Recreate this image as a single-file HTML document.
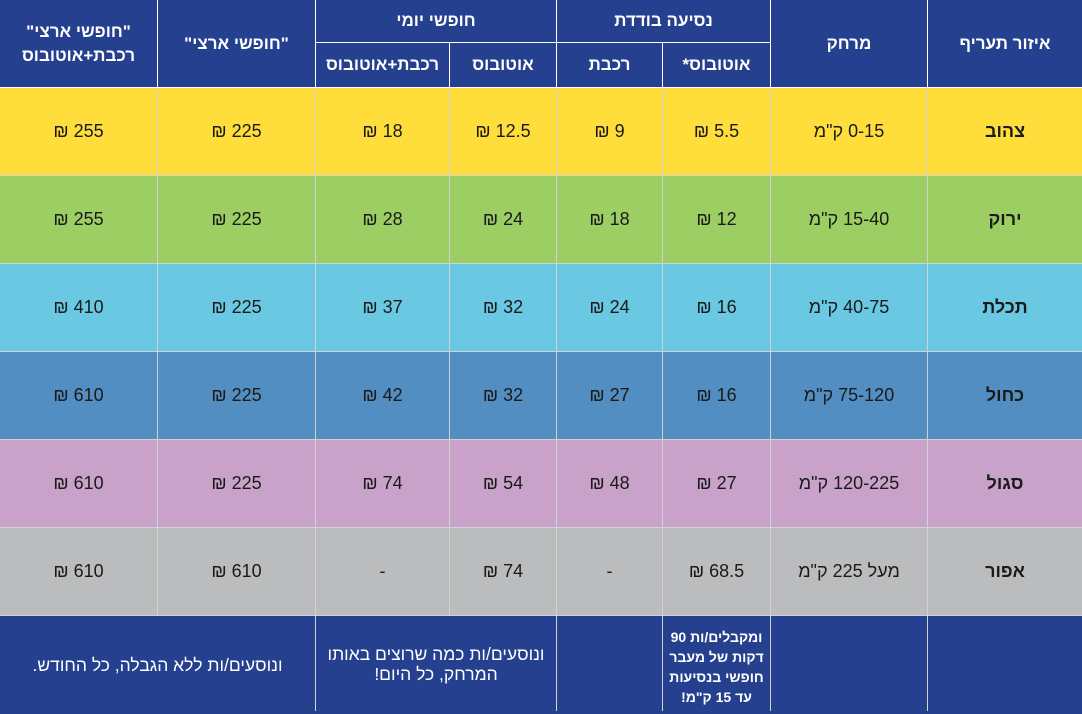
<!DOCTYPE html>
<html lang="he">
<head>
<meta charset="utf-8">
<style>
html,body{margin:0;padding:0;}
body{width:1082px;height:711px;position:relative;overflow:hidden;background:#25408f;font-family:"Liberation Sans","DejaVu Sans",sans-serif;}
.bg{position:absolute;left:0;width:1082px;}
.h{position:absolute;height:1px;}
.v{position:absolute;width:1px;}
.c{position:absolute;display:flex;align-items:center;justify-content:center;text-align:center;direction:rtl;color:#1a1a1a;font-size:18px;}
.hd{color:#fff;font-weight:bold;font-size:17px;line-height:24px;}
.lb{font-weight:bold;}
.ft{color:#fff;font-size:17.5px;line-height:20px;}
.fs{color:#fff;font-size:14px;font-weight:bold;line-height:20px;}
</style>
</head>
<body>
<!-- row backgrounds -->
<div class="bg" style="top:0;height:88px;background:#25408f"></div>
<div class="bg" style="top:88px;height:88px;background:#ffdd3b"></div>
<div class="bg" style="top:176px;height:88px;background:#9cce63"></div>
<div class="bg" style="top:264px;height:88px;background:#6bc8e2"></div>
<div class="bg" style="top:352px;height:88px;background:#528ec1"></div>
<div class="bg" style="top:440px;height:88px;background:#c8a2c8"></div>
<div class="bg" style="top:528px;height:88px;background:#bbbcbd"></div>
<div class="bg" style="top:616px;height:95px;background:#25408f"></div>

<!-- header lines (white) -->
<div class="h" style="top:42px;left:316px;width:455px;background:#fff"></div>
<div class="h" style="top:87px;left:0;width:1082px;background:#fff"></div>
<div class="v" style="left:157px;top:0;height:87px;background:#fff"></div>
<div class="v" style="left:315px;top:0;height:87px;background:#fff"></div>
<div class="v" style="left:449px;top:43px;height:44px;background:#fff"></div>
<div class="v" style="left:556px;top:0;height:87px;background:#fff"></div>
<div class="v" style="left:662px;top:43px;height:44px;background:#fff"></div>
<div class="v" style="left:770px;top:0;height:87px;background:#fff"></div>
<div class="v" style="left:927px;top:0;height:87px;background:#fff"></div>

<!-- body lines (light gray) -->
<div class="h" style="top:175px;left:0;width:1082px;background:#d2d2d2"></div>
<div class="h" style="top:263px;left:0;width:1082px;background:#d2d2d2"></div>
<div class="h" style="top:351px;left:0;width:1082px;background:#d2d2d2"></div>
<div class="h" style="top:439px;left:0;width:1082px;background:#d2d2d2"></div>
<div class="h" style="top:527px;left:0;width:1082px;background:#d2d2d2"></div>
<div class="h" style="top:615px;left:0;width:1082px;background:#d2d2d2"></div>
<div class="v" style="left:157px;top:88px;height:528px;background:#d2d2d2"></div>
<div class="v" style="left:315px;top:88px;height:623px;background:#d2d2d2"></div>
<div class="v" style="left:449px;top:88px;height:528px;background:#d2d2d2"></div>
<div class="v" style="left:556px;top:88px;height:623px;background:#d2d2d2"></div>
<div class="v" style="left:662px;top:88px;height:623px;background:#d2d2d2"></div>
<div class="v" style="left:770px;top:88px;height:623px;background:#d2d2d2"></div>
<div class="v" style="left:927px;top:88px;height:623px;background:#d2d2d2"></div>

<!-- header text -->
<div class="c hd" style="left:928px;width:154px;top:0;height:87px">איזור תעריף</div>
<div class="c hd" style="left:771px;width:156px;top:0;height:87px">מרחק</div>
<div class="c hd" style="left:557px;width:213px;top:0;height:42px">נסיעה בודדת</div>
<div class="c hd" style="left:663px;width:107px;top:43px;height:44px">אוטובוס*</div>
<div class="c hd" style="left:557px;width:105px;top:43px;height:44px">רכבת</div>
<div class="c hd" style="left:316px;width:240px;top:0;height:42px">חופשי יומי</div>
<div class="c hd" style="left:450px;width:106px;top:43px;height:44px">אוטובוס</div>
<div class="c hd" style="left:316px;width:133px;top:43px;height:44px">רכבת+אוטובוס</div>
<div class="c hd" style="left:158px;width:157px;top:0;height:87px">"חופשי ארצי"</div>
<div class="c hd" style="left:0;width:157px;top:0;height:87px">"חופשי ארצי"<br>רכבת+אוטובוס</div>

<!-- row 1 yellow -->
<div class="c lb" style="left:928px;width:154px;top:88px;height:87px">צהוב</div>
<div class="c" style="left:771px;width:156px;top:88px;height:87px">0-15 ק"מ</div>
<div class="c" style="left:663px;width:107px;top:88px;height:87px">5.5 ₪</div>
<div class="c" style="left:557px;width:105px;top:88px;height:87px">9 ₪</div>
<div class="c" style="left:450px;width:106px;top:88px;height:87px">12.5 ₪</div>
<div class="c" style="left:316px;width:133px;top:88px;height:87px">18 ₪</div>
<div class="c" style="left:158px;width:157px;top:88px;height:87px">225 ₪</div>
<div class="c" style="left:0;width:157px;top:88px;height:87px">255 ₪</div>

<!-- row 2 green -->
<div class="c lb" style="left:928px;width:154px;top:176px;height:87px">ירוק</div>
<div class="c" style="left:771px;width:156px;top:176px;height:87px">15-40 ק"מ</div>
<div class="c" style="left:663px;width:107px;top:176px;height:87px">12 ₪</div>
<div class="c" style="left:557px;width:105px;top:176px;height:87px">18 ₪</div>
<div class="c" style="left:450px;width:106px;top:176px;height:87px">24 ₪</div>
<div class="c" style="left:316px;width:133px;top:176px;height:87px">28 ₪</div>
<div class="c" style="left:158px;width:157px;top:176px;height:87px">225 ₪</div>
<div class="c" style="left:0;width:157px;top:176px;height:87px">255 ₪</div>

<!-- row 3 light blue -->
<div class="c lb" style="left:928px;width:154px;top:264px;height:87px">תכלת</div>
<div class="c" style="left:771px;width:156px;top:264px;height:87px">40-75 ק"מ</div>
<div class="c" style="left:663px;width:107px;top:264px;height:87px">16 ₪</div>
<div class="c" style="left:557px;width:105px;top:264px;height:87px">24 ₪</div>
<div class="c" style="left:450px;width:106px;top:264px;height:87px">32 ₪</div>
<div class="c" style="left:316px;width:133px;top:264px;height:87px">37 ₪</div>
<div class="c" style="left:158px;width:157px;top:264px;height:87px">225 ₪</div>
<div class="c" style="left:0;width:157px;top:264px;height:87px">410 ₪</div>

<!-- row 4 blue -->
<div class="c lb" style="left:928px;width:154px;top:352px;height:87px">כחול</div>
<div class="c" style="left:771px;width:156px;top:352px;height:87px">75-120 ק"מ</div>
<div class="c" style="left:663px;width:107px;top:352px;height:87px">16 ₪</div>
<div class="c" style="left:557px;width:105px;top:352px;height:87px">27 ₪</div>
<div class="c" style="left:450px;width:106px;top:352px;height:87px">32 ₪</div>
<div class="c" style="left:316px;width:133px;top:352px;height:87px">42 ₪</div>
<div class="c" style="left:158px;width:157px;top:352px;height:87px">225 ₪</div>
<div class="c" style="left:0;width:157px;top:352px;height:87px">610 ₪</div>

<!-- row 5 purple -->
<div class="c lb" style="left:928px;width:154px;top:440px;height:87px">סגול</div>
<div class="c" style="left:771px;width:156px;top:440px;height:87px">120-225 ק"מ</div>
<div class="c" style="left:663px;width:107px;top:440px;height:87px">27 ₪</div>
<div class="c" style="left:557px;width:105px;top:440px;height:87px">48 ₪</div>
<div class="c" style="left:450px;width:106px;top:440px;height:87px">54 ₪</div>
<div class="c" style="left:316px;width:133px;top:440px;height:87px">74 ₪</div>
<div class="c" style="left:158px;width:157px;top:440px;height:87px">225 ₪</div>
<div class="c" style="left:0;width:157px;top:440px;height:87px">610 ₪</div>

<!-- row 6 gray -->
<div class="c lb" style="left:928px;width:154px;top:528px;height:87px">אפור</div>
<div class="c" style="left:771px;width:156px;top:528px;height:87px">מעל 225 ק"מ</div>
<div class="c" style="left:663px;width:107px;top:528px;height:87px">68.5 ₪</div>
<div class="c" style="left:557px;width:105px;top:528px;height:87px">-</div>
<div class="c" style="left:450px;width:106px;top:528px;height:87px">74 ₪</div>
<div class="c" style="left:316px;width:133px;top:528px;height:87px">-</div>
<div class="c" style="left:158px;width:157px;top:528px;height:87px">610 ₪</div>
<div class="c" style="left:0;width:157px;top:528px;height:87px">610 ₪</div>

<!-- footer -->
<div class="c fs" style="left:663px;width:107px;top:627px;height:80px">ומקבלים/ות 90<br>דקות של מעבר<br>חופשי בנסיעות<br>עד 15 ק"מ!</div>
<div class="c ft" style="left:316px;width:240px;top:616px;height:95px">ונוסעים/ות כמה שרוצים באותו<br>המרחק, כל היום!</div>
<div class="c ft" style="left:0;width:315px;top:616px;height:98px">ונוסעים/ות ללא הגבלה, כל החודש.</div>
</body>
</html>
